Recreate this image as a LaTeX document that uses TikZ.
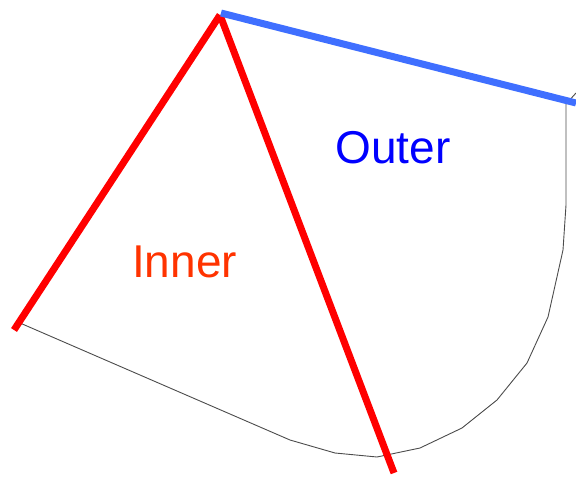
\documentclass[tikz,border=0pt]{standalone}
\usepackage{fontspec}
\setmainfont{Liberation Sans}
\usepackage{tikz}
\definecolor{sideblue}{HTML}{3F6FFF}
\definecolor{innerred}{HTML}{FF3300}
\definecolor{outerblue}{HTML}{0000FF}
\tikzset{
  redside/.style={draw=red, line width=7pt},
  blueside/.style={draw=sideblue, line width=7pt},
  rim/.style={draw=black!70, line width=0.9pt, line join=round},
  zonelabel/.style={anchor=base, inner sep=0pt, font=\fontsize{46}{55}\selectfont, text=#1}
}
\begin{document}
\begin{tikzpicture}[x=1pt, y=-1pt]
\useasboundingbox (0,0) rectangle (576,477);

% Corner points
\coordinate (apex) at (220,15);
\coordinate (leftend) at (14,330);
\coordinate (lowend) at (394,473);
\coordinate (rightend) at (576,103);

% Rim of the outer region
\draw[rim] (20,323) -- (290,440) -- (335,453) -- (377,457) -- (420,448)
  -- (462,428) -- (497,400) -- (527,363) -- (548,317) -- (563,250)
  -- (566,205) -- (566,104) -- (576,93);

% Sides
\draw[redside] (leftend) -- (apex);
\draw[redside] (apex) -- (lowend);
\draw[blueside] (apex) ++(1,-2) coordinate (bluestart) -- (rightend);

% Labels
\node[zonelabel=innerred] (inner) at (184.5,277) {Inner};
\node[zonelabel=outerblue] (outer) at (393,163) {Outer};
\end{tikzpicture}
\end{document}
